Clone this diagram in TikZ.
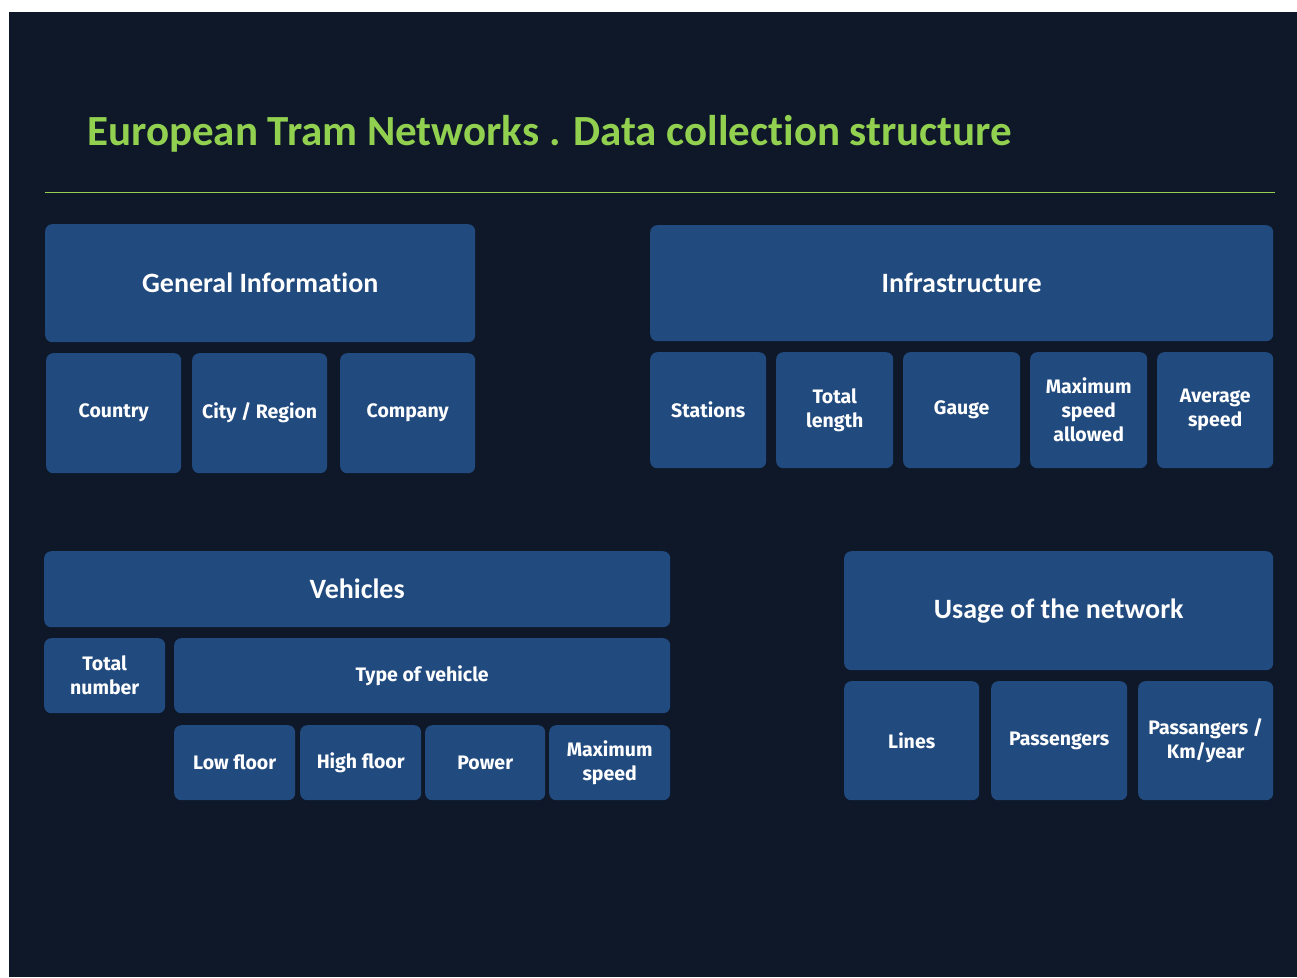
\documentclass[tikz,border=0pt]{standalone}
\usepackage{fontspec}
\setmainfont[Ligatures=NoCommon]{Carlito}
\newfontfamily\boxfont{Fira Sans}
\usetikzlibrary{positioning}
\definecolor{slide}{RGB}{14,24,41}
\definecolor{tile}{RGB}{33,74,126}
\definecolor{titlegreen}{RGB}{146,208,80}

\begin{document}
\begin{tikzpicture}[x=1pt, y=-1pt,
  head/.style={fill=tile, rounded corners=7pt, anchor=north west, inner sep=0pt,
    text=white, font=\bfseries\fontsize{28}{32}\selectfont, align=center},
  item/.style={fill=tile, rounded corners=7pt, anchor=north west, inner sep=0pt,
    text=white, font=\boxfont\bfseries\fontsize{19.5}{24}\selectfont, align=center}
]
% page and background
\fill[white] (0,0) rectangle (1297,977);
\fill[slide] (9,12) rectangle (1297,977);
\useasboundingbox (0,0) rectangle (1297,977);

% title
\node[anchor=base west, inner sep=0pt, text=titlegreen, font=\bfseries\fontsize{43}{46}\selectfont] (title) at (87,145) {European Tram Networks . Data collection structure};
\draw[titlegreen, line width=1pt] (45,192) -- (1275,192);

% general information
\node[head, minimum width=430pt, minimum height=118pt] (general) at (45,224) {General Information};
\node[item, minimum width=135pt, minimum height=120pt] (country) at (46,353) {Country};
\node[item, minimum width=135pt, minimum height=120pt] (city) at (192,353) {City / Region};
\node[item, minimum width=135pt, minimum height=120pt] (company) at (340,353) {Company};

% infrastructure
\node[head, minimum width=623pt, minimum height=116pt] (infra) at (650,225) {Infrastructure};
\node[item, minimum width=116pt, minimum height=116pt] (stations) at (650,352) {Stations};
\node[item, minimum width=117pt, minimum height=116pt] (length) at (776,352) {Total\\length};
\node[item, minimum width=117pt, minimum height=116pt] (gauge) at (903,352) {Gauge};
\node[item, minimum width=117pt, minimum height=116pt] (maxallowed) at (1030,352) {Maximum\\speed\\allowed};
\node[item, minimum width=116pt, minimum height=116pt] (average) at (1157,352) {Average\\speed};

% vehicles
\node[head, minimum width=626pt, minimum height=76pt] (vehicles) at (44,551) {Vehicles};
\node[item, minimum width=121pt, minimum height=75pt] (total) at (44,638) {Total\\number};
\node[item, minimum width=496pt, minimum height=75pt] (type) at (174,638) {Type of vehicle};
\node[item, minimum width=121pt, minimum height=75pt] (low) at (174,725) {Low floor};
\node[item, minimum width=121pt, minimum height=75pt] (high) at (300,725) {High floor};
\node[item, minimum width=120pt, minimum height=75pt] (power) at (425,725) {Power};
\node[item, minimum width=121pt, minimum height=75pt] (maxspeed) at (549,725) {Maximum\\speed};

% usage
\node[head, minimum width=429pt, minimum height=119pt] (usage) at (844,551) {Usage of the network};
\node[item, minimum width=135pt, minimum height=119pt] (lines) at (844,681) {Lines};
\node[item, minimum width=136pt, minimum height=119pt] (passengers) at (991,681) {Passengers};
\node[item, minimum width=135pt, minimum height=119pt] (perkm) at (1138,681) {Passangers /\\Km/year};
\end{tikzpicture}
\end{document}
